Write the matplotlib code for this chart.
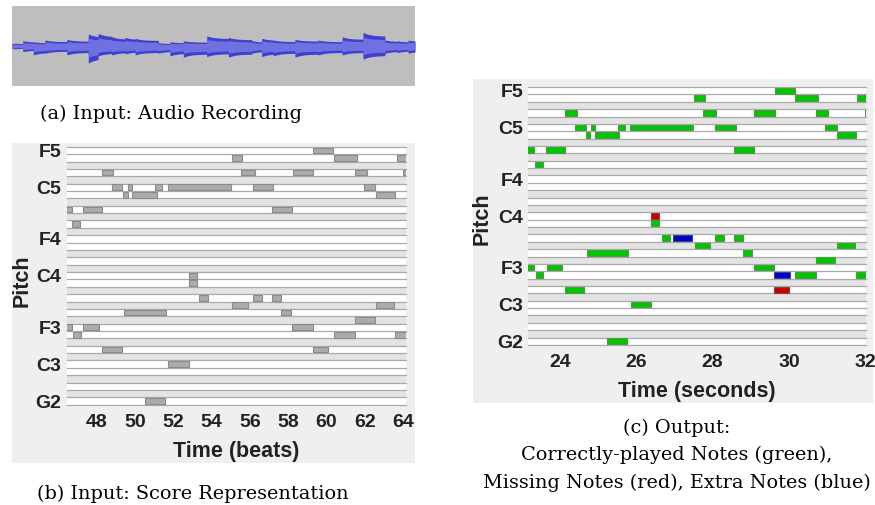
import numpy as np
import matplotlib.pyplot as plt
from matplotlib.patches import Rectangle

# --- (a) audio waveform: onset positions (box px) and peak heights above / below centre
wave_onsets = [0, 2, 10.7, 21.3, 33, 54.7, 76.3, 86, 99.7, 113, 123, 146.3, 158, 171.3,
               194.7, 216.3, 239.7, 249.7, 261.3, 283, 306, 330, 351, 373, 385, 396]
wave_top = [2.5, 3, 5.3, 4.3, 6, 6.7, 12, 12.7, 9.3, 8.7, 7.7, 3.3, 4.3, 5.3,
            10.3, 8.7, 5.3, 7.7, 6, 6.7, 6, 9.3, 13.7, 6, 5.3, 6]
wave_bot = [2.5, 3, 5.7, 9, 7.3, 9, 17.3, 10, 9, 8, 9, 7.3, 10, 11.3,
            10.7, 11.3, 7.3, 10.7, 10, 11.3, 9, 9, 13.3, 7.3, 6.7, 7.3]

# --- (b) score notes (MIDI pitch, start beat, end beat)
score_pitch = [77, 76, 76, 76, 74, 74, 74, 74, 74, 72, 72, 72, 72, 72, 72,
               71, 71, 71, 69, 69, 69, 67, 60, 59, 57, 57, 57, 56, 56, 55, 55,
               54, 53, 53, 53, 52, 52, 52, 50, 50, 48, 43]
score_start = [59.31, 55.08, 60.39, 63.67, 48.29, 55.55, 58.23, 61.50, 64.0,
               48.81, 49.63, 51.06, 51.71, 56.18, 61.96,
               49.37, 49.86, 62.57, 46.2, 47.27, 57.17, 46.73, 52.80, 52.84,
               53.36, 56.18, 57.17, 55.08, 62.57, 49.41, 57.62,
               61.50, 46.2, 47.30, 58.21, 46.75, 60.39, 63.59, 48.29, 59.31, 51.74, 50.51]
score_end = [60.36, 55.60, 61.58, 64.5, 48.87, 56.25, 59.31, 62.10, 64.6,
             49.34, 49.84, 51.41, 55.00, 57.22, 62.55,
             49.62, 51.13, 63.58, 46.69, 48.29, 58.21, 47.13, 53.25, 53.22,
             53.83, 56.62, 57.61, 55.88, 63.51, 51.62, 58.13,
             62.52, 46.69, 48.14, 59.28, 47.16, 61.49, 64.5, 49.32, 60.06, 52.80, 51.55]

# --- (c) performance notes (MIDI pitch, start s, end s)
correct_pitch = [77, 76, 76, 76, 74, 74, 74, 74, 74, 72, 72, 72, 72, 72, 72,
                 71, 71, 71, 69, 69, 69, 67, 59, 57, 57, 57, 56, 56, 55, 55,
                 54, 53, 53, 53, 52, 52, 52, 50, 48, 43]
correct_start = [29.63, 27.52, 30.16, 31.79, 24.13, 27.75, 29.09, 30.72, 32.0,
                 24.39, 24.81, 25.51, 25.83, 28.07, 30.94,
                 24.67, 24.92, 31.25, 23.0, 23.63, 28.57, 23.35, 26.38,
                 26.67, 28.07, 28.57, 27.54, 31.25, 24.70, 28.80,
                 30.71, 23.0, 23.65, 29.08, 23.37, 30.16, 31.77, 24.13, 25.85, 25.24]
correct_end = [30.16, 27.79, 30.75, 32.3, 24.44, 28.10, 29.63, 31.02, 32.3,
               24.67, 24.91, 25.70, 27.48, 28.61, 31.25,
               24.79, 25.56, 31.75, 23.33, 24.13, 29.08, 23.55, 26.60,
               26.88, 28.30, 28.79, 27.93, 31.73, 25.79, 29.04,
               31.22, 23.33, 24.06, 29.61, 23.56, 30.71, 32.3, 24.64, 26.38, 25.76]
missing_pitch = [60, 50]
missing_start = [26.38, 29.62]
missing_end = [26.60, 30.01]
extra_pitch = [57, 52]
extra_start = [26.97, 29.62]
extra_end = [27.45, 30.03]

pitch_ticks = [77, 72, 65, 60, 53, 48, 43]
pitch_names = ['F5', 'C5', 'F4', 'C4', 'F3', 'C3', 'G2']
beat_ticks = [48, 50, 52, 54, 56, 58, 60, 62, 64]
sec_ticks = [24, 26, 28, 30, 32]

W, H = 875, 505
fig = plt.figure(figsize=(W / 100, H / 100), dpi=100)
SANS = 'Liberation Sans'
SERIF = 'DejaVu Serif'
TXT = '#222222'
CAP = 13.9


def px_axes(x0, y0, x1, y1):
    return fig.add_axes([x0 / W, 1 - y1 / H, (x1 - x0) / W, (y1 - y0) / H])


def px_box(x0, y0, x1, y1, color):
    fig.add_artist(Rectangle((x0 / W, 1 - y1 / H), (x1 - x0) / W, (y1 - y0) / H,
                             transform=fig.transFigure, facecolor=color,
                             edgecolor='none', zorder=-10))


def piano_roll(ax, lo, hi, xlim, xticks):
    for p in range(lo, hi + 1):
        shade = '#e3e3e3' if p % 12 in (1, 3, 6, 8, 10) else 'white'
        ax.axhspan(p - 0.5, p + 0.5, color=shade, lw=0, zorder=0)
    for p in range(lo, hi + 2):
        ax.axhline(p - 0.5, color='#a9a9a9', lw=0.9, zorder=1, clip_on=False)
    ax.set_xlim(xlim)
    ax.set_ylim(lo - 0.5, hi + 0.5)
    ax.set_facecolor('none')
    for s in ax.spines.values():
        s.set_visible(False)
    ax.set_yticks(pitch_ticks)
    ax.set_yticklabels(pitch_names, fontfamily=SANS, fontweight='bold',
                       fontsize=14, color=TXT)
    ax.set_xticks(xticks)
    ax.set_xticklabels([str(t) for t in xticks], fontfamily=SANS,
                       fontweight='bold', fontsize=14, color=TXT)
    ax.tick_params(axis='x', length=0, pad=6.5)
    ax.tick_params(axis='y', length=0, pad=3.8)


def notes(ax, pitch, start, end, face, edge):
    ax.barh(pitch, np.array(end) - np.array(start), left=start, height=0.78,
            color=face, edgecolor=edge, linewidth=0.8, zorder=3)


# (a) audio recording: peak envelope plus lighter rms band
ax_a = px_axes(12, 6, 415, 86)
x = np.linspace(0, 403, 1600)
idx = np.searchsorted(wave_onsets, x, side='right') - 1
t0 = np.array(wave_onsets)[idx]
decay = 0.72 + 0.28 * np.exp(-(x - t0) / 7.0)
top = np.maximum(np.array(wave_top)[idx] * decay, 2.2)
bot = np.maximum(np.array(wave_bot)[idx] * decay, 2.2)
ax_a.fill_between(x, -bot, top, color='#3f3fd2', lw=0)
ax_a.fill_between(x, -bot * 0.65, top * 0.65, color='#7070e0', lw=0)
ax_a.set_xlim(0, 403)
ax_a.set_ylim(-40, 40)
ax_a.axis('off')
ax_a.add_patch(Rectangle((0, 0), 1, 1, transform=ax_a.transAxes,
                         facecolor='#bebebe', zorder=-1))
fig.text(170.5 / W, 1 - 119 / H, '(a) Input: Audio Recording', family=SERIF,
         fontsize=CAP, ha='center', va='baseline', color='black')

# (b) score
px_box(12, 143, 415, 463, '#efefef')
ax_b = px_axes(66.7, 146.8, 406, 404.7)
piano_roll(ax_b, 43, 77, (46.43, 64.15), beat_ticks)
notes(ax_b, score_pitch, score_start, score_end, '#ababab', '#8a8a8a')
fig.text(22 / W, 1 - 281 / H, 'Pitch', family=SANS, fontweight='bold',
         fontsize=15.5, rotation=90, ha='center', va='center', color=TXT)
fig.text(236 / W, 1 - 451 / H, 'Time (beats)', family=SANS, fontweight='bold',
         fontsize=15.5, ha='center', va='center', color=TXT)
fig.text(192.5 / W, 1 - 499 / H, '(b) Input: Score Representation', family=SERIF,
         fontsize=CAP, ha='center', va='baseline', color='black')

# (c) alignment output
px_box(472.7, 79, 873, 403.3, '#efefef')
ax_c = px_axes(528.3, 87.1, 866, 344.9)
piano_roll(ax_c, 43, 77, (23.17, 32.02), sec_ticks)
notes(ax_c, correct_pitch, correct_start, correct_end, '#00c600', '#4f9a45')
notes(ax_c, missing_pitch, missing_start, missing_end, '#cc0000', '#8a4040')
notes(ax_c, extra_pitch, extra_start, extra_end, '#0000c4', '#404090')
fig.text(482 / W, 1 - 219 / H, 'Pitch', family=SANS, fontweight='bold',
         fontsize=15.5, rotation=90, ha='center', va='center', color=TXT)
fig.text(697 / W, 1 - 391 / H, 'Time (seconds)', family=SANS, fontweight='bold',
         fontsize=15.5, ha='center', va='center', color=TXT)
for line, base in zip(['(c) Output:', 'Correctly-played Notes (green),',
                       'Missing Notes (red), Extra Notes (blue)'], [433, 460.5, 488]):
    fig.text(676.7 / W, 1 - base / H, line, family=SERIF, fontsize=CAP,
             ha='center', va='baseline', color='black')

fig.savefig('out.png', dpi=100)
